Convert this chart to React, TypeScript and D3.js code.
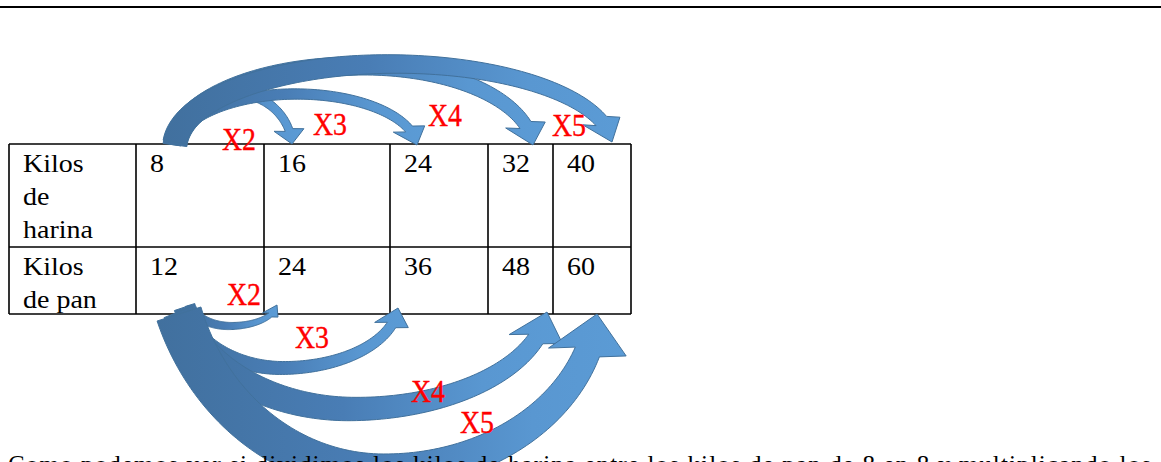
import React from "react";
import * as d3 from "d3";

// ---- data ----
const rowLabels: string[][] = [["Kilos", "de", "harina"], ["Kilos", "de pan"]];
const harina = [8, 16, 24, 32, 40];
const pan = [12, 24, 36, 48, 60];
const factors = ["X2", "X3", "X4", "X5"];
const bottomText =
  "Como podemos ver si dividimos los kilos de harina entre los kilos de pan de 8 en 8 y multiplicando los";

// ---- layout ----
const W = 1161;
const H = 462;
const colEdges = [9, 136, 264, 390, 488, 553, 631];
const rowEdges = [144, 247, 314];
const lineStep = 33;

// arrow layout (top: harina row, bottom: pan row)
// xm = x of the extreme point, d = depth of centreline from base,
// kL / kR = offset of the ellipse centre beyond the base on the tail / head side
const topArrows = [
  { tail: 175, tipX: 292, xm: 234, base: 144, d: 51, kL: 4, kR: 4, wT: 12, wH: 8, hw: 15, hl: 14 },
  { tail: 175, tipX: 417, xm: 296, base: 145, d: 51, kL: 4, kR: 4, wT: 12, wH: 9, hw: 16, hl: 16 },
  { tail: 175, tipX: 533, xm: 360, base: 145, d: 79, kL: 5, kR: 5, wT: 24, wH: 13, hw: 20, hl: 20 },
  { tail: 175, tipX: 612, xm: 392, base: 142, d: 78, kL: 5, kR: 5, wT: 24, wH: 14, hw: 19, hl: 21 },
];
const bottomArrows = [
  { tail: 190, tipX: 277, xm: 230, base: 305, d: 21, kL: 5, kR: 2, wT: 10, wH: 5, hw: 8, hl: 10 },
  { tail: 182, tipX: 398, xm: 282, base: 308, d: 60, kL: 20, kR: 5, wT: 16, wH: 10, hw: 17, hl: 17 },
  { tail: 178, tipX: 547, xm: 352, base: 312, d: 97, kL: 40, kR: 10, wT: 30, wH: 17, hw: 27, hl: 27 },
  { tail: 179, tipX: 597, xm: 380, base: 314, d: 158, kL: 80, kR: 15, wT: 46, wH: 26, hw: 39, hl: 38 },
];
const topLabelPos = [[222, 150], [313, 135], [428, 126], [552, 136]];
const bottomLabelPos = [[227, 305], [295, 348], [411, 402], [460, 433]];

// dir = 1: arc above the base, dir = -1: arc below the base
function arrowPath(a: any, dir: number): string {
  const ryL = a.d + a.kL, ryR = a.d + a.kR;
  const tsL = Math.asin(a.kL / ryL), tsR = Math.asin(a.kR / ryR);
  const rxL = (a.xm - a.tail) / Math.cos(tsL);
  const rxR = (a.tipX - a.xm) / Math.cos(tsR);
  const prm = (t: number) =>
    t >= Math.PI / 2 ? { rx: rxL, ry: ryL, cy: a.base + dir * a.kL } : { rx: rxR, ry: ryR, cy: a.base + dir * a.kR };
  const P = (t: number) => {
    const q = prm(t);
    return [a.xm + q.rx * Math.cos(t), q.cy - dir * q.ry * Math.sin(t)];
  };
  const N = (t: number) => {
    const q = prm(t);
    const tx = q.rx * Math.sin(t);
    const ty = dir * q.ry * Math.cos(t);
    const l = Math.hypot(tx, ty) || 1;
    return [-ty / l, tx / l];
  };
  const tStart = Math.PI - tsL;
  const te = Math.asin(Math.min(0.95, (a.kR + a.hl) / ryR));
  const steps = 100;
  const thetas = d3.range(steps + 1).map((i) => tStart - (tStart - te) * (i / steps));
  const wAt = (t: number) => a.wH + (a.wT - a.wH) * ((t - te) / (tStart - te));
  const offs = (sgn: number) =>
    thetas.map((t) => {
      const p = P(t), n = N(t), w = (sgn * wAt(t)) / 2;
      return [p[0] + n[0] * w, p[1] + n[1] * w];
    });
  const side1 = offs(1);
  const side2 = offs(-1).reverse();
  const b = P(te);
  const tip = [a.tipX, a.base];
  // head axis: mostly vertical, slightly leaning towards the tip
  const dx = (tip[0] - b[0]) * 0.4, dy = tip[1] - b[1];
  const dl = Math.hypot(dx, dy) || 1;
  let px = -dy / dl, py = dx / dl;
  const nb = N(te);
  if (px * nb[0] + py * nb[1] < 0) { px = -px; py = -py; }
  const path = d3.path();
  side1.forEach((p, i) => (i === 0 ? path.moveTo(p[0], p[1]) : path.lineTo(p[0], p[1])));
  path.lineTo(b[0] + px * a.hw, b[1] + py * a.hw);
  path.lineTo(tip[0], tip[1]);
  path.lineTo(b[0] - px * a.hw, b[1] - py * a.hw);
  side2.forEach((p) => path.lineTo(p[0], p[1]));
  path.closePath();
  return path.toString();
}

const serif = "'Liberation Serif', 'Times New Roman', serif";

export default function App() {
  const colX = d3.scaleOrdinal<number, number>().domain(d3.range(colEdges.length)).range(colEdges);
  const rows = [harina, pan];

  const cellText = (x: number, y: number, s: string, key: string) => (
    <text key={key} transform={`translate(${x},${y}) scale(1.12,1)`} fontFamily={serif} fontSize={25} fill="#000">
      {s}
    </text>
  );

  const label = (f: string, pos: number[], key: string) => (
    <text key={key} x={pos[0]} y={pos[1]} fontFamily={serif} fontSize={31} fill="#ff0000" stroke="#ff0000"
      strokeWidth={0.4} textLength={34} lengthAdjust="spacingAndGlyphs">{f}</text>
  );

  return (
    <svg width={W} height={H} style={{ position: "absolute", left: 0, top: 0, background: "#fff" }}>
      <defs>
        <linearGradient id="blueGrad" x1="0" y1="0" x2="1" y2="0">
          <stop offset="0" stopColor="#41709e" />
          <stop offset="0.45" stopColor="#497db5" />
          <stop offset="0.8" stopColor="#5997d1" />
          <stop offset="1" stopColor="#5b9bd5" />
        </linearGradient>
      </defs>
      <line x1={0} x2={W} y1={7} y2={7} stroke="#000" strokeWidth={2} />

      {/* table */}
      <g stroke="#000" strokeWidth={1.6} fill="none">
        {rowEdges.map((y, i) => (
          <line key={"h" + i} x1={colEdges[0]} x2={colEdges[colEdges.length - 1]} y1={y} y2={y} />
        ))}
        {colEdges.map((x, i) => (
          <line key={"v" + i} x1={x} x2={x} y1={rowEdges[0]} y2={rowEdges[rowEdges.length - 1]} />
        ))}
      </g>
      {rowLabels.map((lines, r) =>
        lines.map((s, k) => cellText(colEdges[0] + 14, rowEdges[r] + 28 + k * lineStep, s, `l${r}${k}`))
      )}
      {rows.map((vals, r) =>
        vals.map((v, c) => cellText((colX(c + 1) as number) + 14, rowEdges[r] + 28, String(v), `v${r}${c}`))
      )}

      {/* arrows */}
      <g fill="url(#blueGrad)" stroke="#41719c" strokeWidth={1} strokeLinejoin="round">
        {topArrows.map((a, i) => (
          <path key={"ta" + i} d={arrowPath(a, 1)} />
        ))}
        {bottomArrows.map((a, i) => (
          <path key={"ba" + i} d={arrowPath(a, -1)} />
        ))}
      </g>

      {/* factor labels */}
      {factors.map((f, i) => label(f, topLabelPos[i], "tf" + i))}
      {factors.map((f, i) => label(f, bottomLabelPos[i], "bf" + i))}

      <text x={8} y={473} fontFamily={serif} fontSize={25} fill="#000" textLength={1143} lengthAdjust="spacing">
        {bottomText}
      </text>
    </svg>
  );
}
